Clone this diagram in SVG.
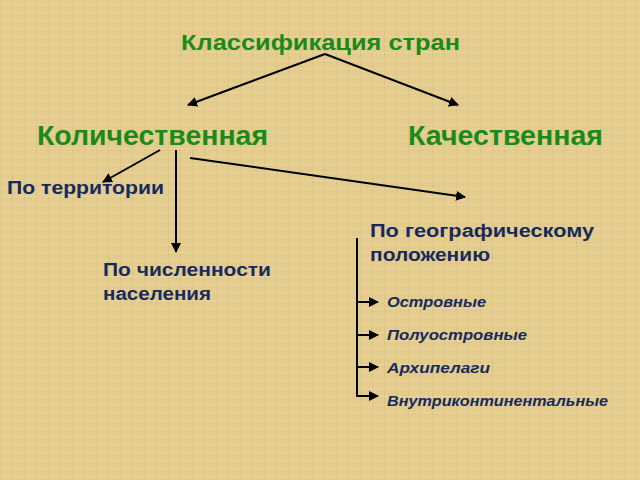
<svg xmlns="http://www.w3.org/2000/svg" width="640" height="480" viewBox="0 0 640 480">
<defs>
<marker id="ah" viewBox="0 0 10 10" refX="9" refY="5" markerWidth="5" markerHeight="5" orient="auto"><path d="M0,0L10,5L0,10z" fill="#000"/></marker>
<pattern id="tx" width="12" height="8" patternUnits="userSpaceOnUse"><rect width="12" height="8" fill="#e3cc8e"/><rect x="0" width="1" height="8" fill="#d6bc7a" opacity="0.6"/><rect y="4" width="12" height="1" fill="#efdca8" opacity="0.5"/></pattern>
<style>
.g{font-family:"Liberation Sans",Arial,sans-serif;font-weight:bold;fill:#1a8a1a}
.b{font-family:"Liberation Sans",Arial,sans-serif;font-weight:bold;fill:#162a5c;font-size:18px}
.i{font-family:"Liberation Sans",Arial,sans-serif;font-weight:bold;font-style:italic;fill:#162a5c;font-size:15px}
.c{stroke:#000;stroke-width:2;fill:none}
</style>
</defs>
<rect width="640" height="480" fill="url(#tx)"/>
<g id="connectors">
<line class="c" x1="325" y1="54" x2="188" y2="105" marker-end="url(#ah)"/>
<line class="c" x1="325" y1="54" x2="458" y2="105" marker-end="url(#ah)"/>
<line class="c" x1="160" y1="150" x2="103" y2="182" marker-end="url(#ah)"/>
<line class="c" x1="176" y1="150" x2="176" y2="252" marker-end="url(#ah)"/>
<line class="c" x1="190" y1="158" x2="465" y2="197" marker-end="url(#ah)"/>
<path class="c" d="M357,238V396"/>
<line class="c" x1="356" y1="302" x2="378" y2="302" marker-end="url(#ah)"/>
<line class="c" x1="356" y1="335" x2="378" y2="335" marker-end="url(#ah)"/>
<line class="c" x1="356" y1="367" x2="378" y2="367" marker-end="url(#ah)"/>
<line class="c" x1="356" y1="396" x2="378" y2="396" marker-end="url(#ah)"/>
</g>
<g id="root"><text class="g" x="181" y="50" font-size="22" textLength="279" lengthAdjust="spacingAndGlyphs">Классификация стран</text></g>
<g id="quant"><text class="g" x="37" y="145" font-size="27" textLength="231" lengthAdjust="spacingAndGlyphs">Количественная</text></g>
<g id="qual"><text class="g" x="408" y="145" font-size="27" textLength="195" lengthAdjust="spacingAndGlyphs">Качественная</text></g>
<g id="terr"><text class="b" x="7" y="194" textLength="157" lengthAdjust="spacingAndGlyphs">По территории</text></g>
<g id="pop"><text class="b" x="103" y="276" textLength="168" lengthAdjust="spacingAndGlyphs">По численности</text><text class="b" x="103" y="300" textLength="108" lengthAdjust="spacingAndGlyphs">населения</text></g>
<g id="geo"><text class="b" x="370" y="237" textLength="224" lengthAdjust="spacingAndGlyphs">По географическому</text><text class="b" x="370" y="261" textLength="120" lengthAdjust="spacingAndGlyphs">положению</text></g>
<g id="isl"><text class="i" x="387" y="307" textLength="99" lengthAdjust="spacingAndGlyphs">Островные</text></g>
<g id="pen"><text class="i" x="387" y="340" textLength="140" lengthAdjust="spacingAndGlyphs">Полуостровные</text></g>
<g id="arch"><text class="i" x="387" y="373" textLength="103" lengthAdjust="spacingAndGlyphs">Архипелаги</text></g>
<g id="inl"><text class="i" x="387" y="406" textLength="221" lengthAdjust="spacingAndGlyphs">Внутриконтинентальные</text></g>
</svg>
